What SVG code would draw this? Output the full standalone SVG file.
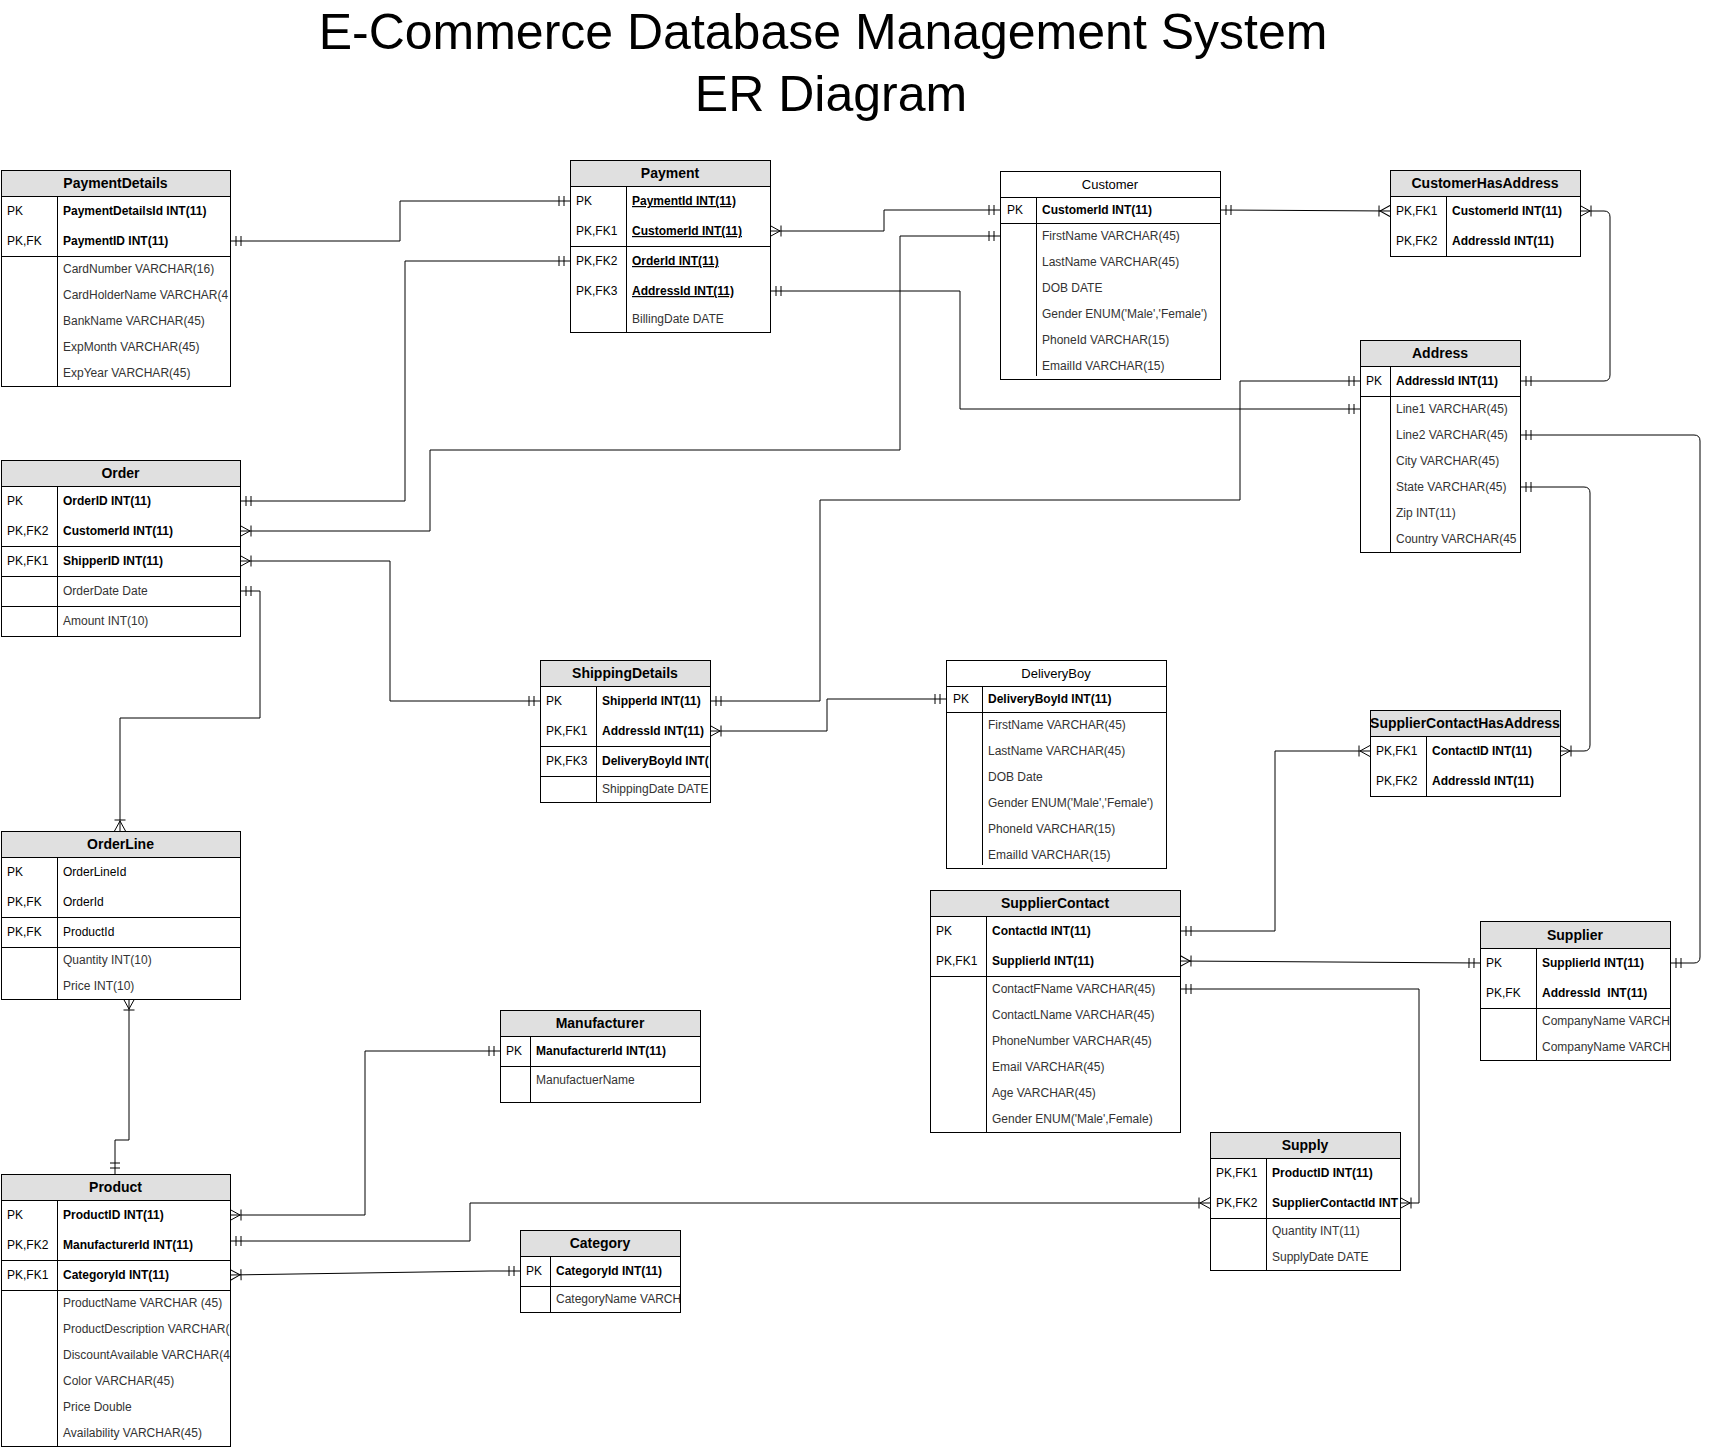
<svg xmlns="http://www.w3.org/2000/svg" width="1716" height="1450" viewBox="0 0 1716 1450">
<style>
text{font-family:"Liberation Sans",Arial,Helvetica,sans-serif}
.box{fill:#fff;stroke:#000;stroke-width:1;shape-rendering:crispEdges}
.hdr{fill:#e0e0e0;stroke:#000;stroke-width:1;shape-rendering:crispEdges}
.sep{stroke:#000;stroke-width:1;fill:none;shape-rendering:crispEdges}
.ht{font-size:14px;font-weight:bold;text-anchor:middle;fill:#000}
.ht2{font-size:13px;text-anchor:middle;fill:#000}
.k{font-size:12px;fill:#000}
.kb{font-size:12px;font-weight:bold;fill:#000}
.u{text-decoration:underline}
.a{font-size:12px;fill:#333}
.c{stroke:#000;stroke-width:1;fill:none}
.title{font-size:50px;text-anchor:middle;fill:#000}
</style>
<defs>
<marker id="one" markerUnits="userSpaceOnUse" orient="auto-start-reverse" refX="0" refY="0" markerWidth="30" markerHeight="30" viewBox="-15 -15 30 30" overflow="visible">
<path d="M-6,-5V5M-11,-5V5" stroke="#000" stroke-width="1" fill="none"/>
</marker>
<marker id="many" markerUnits="userSpaceOnUse" orient="auto-start-reverse" refX="0" refY="0" markerWidth="30" markerHeight="30" viewBox="-15 -15 30 30" overflow="visible">
<path d="M0,-5.5L-10,0L0,5.5M-11,-5.5V5.5" stroke="#000" stroke-width="1" fill="none"/>
</marker>
<clipPath id="cpPD"><rect x="1" y="170" width="229" height="216"/></clipPath>
<clipPath id="cpAD"><rect x="1360" y="340" width="160" height="212"/></clipPath>
<clipPath id="cpSD"><rect x="540" y="660" width="170" height="142"/></clipPath>
<clipPath id="cpSU"><rect x="1480" y="921" width="190" height="139"/></clipPath>
<clipPath id="cpPR"><rect x="1" y="1174" width="229" height="272"/></clipPath>
<clipPath id="cpCA"><rect x="520" y="1230" width="160" height="82"/></clipPath>
<clipPath id="cpSY"><rect x="1210" y="1132" width="190" height="138"/></clipPath>
</defs>
<rect width="1716" height="1450" fill="#fff"/>

<g id="title">
<text class="title" x="823" y="49">E-Commerce Database Management System</text>
<text class="title" x="831" y="111">ER Diagram</text>
</g>

<g id="connectors">
<path class="c" d="M230,241H400V201H570" marker-start="url(#one)" marker-end="url(#one)"/>
<path class="c" d="M240,501H405V261H570" marker-start="url(#one)" marker-end="url(#one)"/>
<path class="c" d="M240,531H430V450H900V236H1000" marker-start="url(#many)" marker-end="url(#one)"/>
<path class="c" d="M770,231H884V210H1000" marker-start="url(#many)" marker-end="url(#one)"/>
<path class="c" d="M770,291H960V409H1360" marker-start="url(#one)" marker-end="url(#one)"/>
<path class="c" d="M1220,210L1390,211" marker-start="url(#one)" marker-end="url(#many)"/>
<path class="c" d="M710,701H820V500H1240V381H1360" marker-start="url(#one)" marker-end="url(#one)"/>
<path class="c" d="M240,561H390V701H540" marker-start="url(#many)" marker-end="url(#one)"/>
<path class="c" d="M710,731H827V699H946" marker-start="url(#many)" marker-end="url(#one)"/>
<path class="c" d="M240,591H260V718H120V831" marker-start="url(#one)" marker-end="url(#many)"/>
<path class="c" d="M129,999V1140H115V1174" marker-start="url(#many)" marker-end="url(#one)"/>
<path class="c" d="M1520,381H1604Q1610,381 1610,375V217Q1610,211 1604,211H1580" marker-start="url(#one)" marker-end="url(#many)"/>
<path class="c" d="M1520,435H1694Q1700,435 1700,441V957Q1700,963 1694,963H1670" marker-start="url(#one)" marker-end="url(#one)"/>
<path class="c" d="M1520,487H1584Q1590,487 1590,493V745Q1590,751 1584,751H1560" marker-start="url(#one)" marker-end="url(#many)"/>
<path class="c" d="M1180,931H1275V751H1370" marker-start="url(#one)" marker-end="url(#many)"/>
<path class="c" d="M1180,961L1480,963" marker-start="url(#many)" marker-end="url(#one)"/>
<path class="c" d="M1180,989H1419V1203H1400" marker-start="url(#one)" marker-end="url(#many)"/>
<path class="c" d="M230,1241H470V1203H1210" marker-start="url(#one)" marker-end="url(#many)"/>
<path class="c" d="M230,1215H365V1051H500" marker-start="url(#many)" marker-end="url(#one)"/>
<path class="c" d="M230,1275L490,1271H520" marker-start="url(#many)" marker-end="url(#one)"/>
</g>

<g id="PaymentDetails">
<rect class="box" x="1" y="170" width="229" height="216"/>
<rect class="hdr" x="1" y="170" width="229" height="26"/>
<path class="sep" d="M57,196V386M1,256H230"/>
<text class="ht" x="115.5" y="188">PaymentDetails</text>
<g clip-path="url(#cpPD)">
<text class="k" x="7" y="215">PK</text><text class="kb" x="63" y="215">PaymentDetailsId INT(11)</text>
<text class="k" x="7" y="245">PK,FK</text><text class="kb" x="63" y="245">PaymentID INT(11)</text>
<text class="a" x="63" y="273">CardNumber VARCHAR(16)</text>
<text class="a" x="63" y="299">CardHolderName VARCHAR(4</text>
<text class="a" x="63" y="325">BankName VARCHAR(45)</text>
<text class="a" x="63" y="351">ExpMonth VARCHAR(45)</text>
<text class="a" x="63" y="377">ExpYear VARCHAR(45)</text>
</g>
</g>

<g id="Payment">
<rect class="box" x="570" y="160" width="200" height="172"/>
<rect class="hdr" x="570" y="160" width="200" height="26"/>
<path class="sep" d="M626,186V332M570,246H770"/>
<text class="ht" x="670" y="178">Payment</text>
<text class="k" x="576" y="205">PK</text><text class="kb u" x="632" y="205">PaymentId INT(11)</text>
<text class="k" x="576" y="235">PK,FK1</text><text class="kb u" x="632" y="235">CustomerId INT(11)</text>
<text class="k" x="576" y="265">PK,FK2</text><text class="kb u" x="632" y="265">OrderId INT(11)</text>
<text class="k" x="576" y="295">PK,FK3</text><text class="kb u" x="632" y="295">AddressId INT(11)</text>
<text class="a" x="632" y="323">BillingDate DATE</text>
</g>

<g id="Customer">
<rect class="box" x="1000" y="171" width="220" height="208"/>
<path class="sep" d="M1000,197H1220M1036,197V376M1000,223H1220"/>
<text class="ht2" x="1110" y="188.5">Customer</text>
<text class="k" x="1007" y="214">PK</text><text class="kb" x="1042" y="214">CustomerId INT(11)</text>
<text class="a" x="1042" y="240">FirstName VARCHAR(45)</text>
<text class="a" x="1042" y="266">LastName VARCHAR(45)</text>
<text class="a" x="1042" y="292">DOB DATE</text>
<text class="a" x="1042" y="318">Gender ENUM('Male','Female')</text>
<text class="a" x="1042" y="344">PhoneId VARCHAR(15)</text>
<text class="a" x="1042" y="370">EmailId VARCHAR(15)</text>
</g>

<g id="CustomerHasAddress">
<rect class="box" x="1390" y="170" width="190" height="86"/>
<rect class="hdr" x="1390" y="170" width="190" height="26"/>
<path class="sep" d="M1446,196V256"/>
<text class="ht" x="1485" y="188">CustomerHasAddress</text>
<text class="k" x="1396" y="215">PK,FK1</text><text class="kb" x="1452" y="215">CustomerId INT(11)</text>
<text class="k" x="1396" y="245">PK,FK2</text><text class="kb" x="1452" y="245">AddressId INT(11)</text>
</g>

<g id="Address">
<rect class="box" x="1360" y="340" width="160" height="212"/>
<rect class="hdr" x="1360" y="340" width="160" height="26"/>
<path class="sep" d="M1390,366V552M1360,396H1520"/>
<text class="ht" x="1440" y="358">Address</text>
<g clip-path="url(#cpAD)">
<text class="k" x="1366" y="385">PK</text><text class="kb" x="1396" y="385">AddressId INT(11)</text>
<text class="a" x="1396" y="413">Line1 VARCHAR(45)</text>
<text class="a" x="1396" y="439">Line2 VARCHAR(45)</text>
<text class="a" x="1396" y="465">City VARCHAR(45)</text>
<text class="a" x="1396" y="491">State VARCHAR(45)</text>
<text class="a" x="1396" y="517">Zip INT(11)</text>
<text class="a" x="1396" y="543">Country VARCHAR(45</text>
</g>
</g>

<g id="Order">
<rect class="box" x="1" y="460" width="239" height="176"/>
<rect class="hdr" x="1" y="460" width="239" height="26"/>
<path class="sep" d="M57,486V636M1,546H240M1,576H240M1,606H240"/>
<text class="ht" x="120.5" y="478">Order</text>
<text class="k" x="7" y="505">PK</text><text class="kb" x="63" y="505">OrderID INT(11)</text>
<text class="k" x="7" y="535">PK,FK2</text><text class="kb" x="63" y="535">CustomerId INT(11)</text>
<text class="k" x="7" y="565">PK,FK1</text><text class="kb" x="63" y="565">ShipperID INT(11)</text>
<text class="a" x="63" y="595">OrderDate Date</text>
<text class="a" x="63" y="625">Amount INT(10)</text>
</g>

<g id="ShippingDetails">
<rect class="box" x="540" y="660" width="170" height="142"/>
<rect class="hdr" x="540" y="660" width="170" height="26"/>
<path class="sep" d="M596,686V802M540,746H710M540,776H710"/>
<text class="ht" x="625" y="678">ShippingDetails</text>
<g clip-path="url(#cpSD)">
<text class="k" x="546" y="705">PK</text><text class="kb" x="602" y="705">ShipperId INT(11)</text>
<text class="k" x="546" y="735">PK,FK1</text><text class="kb" x="602" y="735">AddressId INT(11)</text>
<text class="k" x="546" y="765">PK,FK3</text><text class="kb" x="602" y="765">DeliveryBoyId INT(</text>
<text class="a" x="602" y="793">ShippingDate DATE</text>
</g>
</g>

<g id="DeliveryBoy">
<rect class="box" x="946" y="660" width="220" height="208"/>
<path class="sep" d="M946,686H1166M982,686V865M946,712H1166"/>
<text class="ht2" x="1056" y="677.5">DeliveryBoy</text>
<text class="k" x="953" y="703">PK</text><text class="kb" x="988" y="703">DeliveryBoyId INT(11)</text>
<text class="a" x="988" y="729">FirstName VARCHAR(45)</text>
<text class="a" x="988" y="755">LastName VARCHAR(45)</text>
<text class="a" x="988" y="781">DOB Date</text>
<text class="a" x="988" y="807">Gender ENUM('Male','Female')</text>
<text class="a" x="988" y="833">PhoneId VARCHAR(15)</text>
<text class="a" x="988" y="859">EmailId VARCHAR(15)</text>
</g>

<g id="SupplierContactHasAddress">
<rect class="box" x="1370" y="710" width="190" height="86"/>
<rect class="hdr" x="1370" y="710" width="190" height="26"/>
<path class="sep" d="M1426,736V796"/>
<text class="ht" x="1465" y="728">SupplierContactHasAddress</text>
<text class="k" x="1376" y="755">PK,FK1</text><text class="kb" x="1432" y="755">ContactID INT(11)</text>
<text class="k" x="1376" y="785">PK,FK2</text><text class="kb" x="1432" y="785">AddressId INT(11)</text>
</g>

<g id="OrderLine">
<rect class="box" x="1" y="831" width="239" height="168"/>
<rect class="hdr" x="1" y="831" width="239" height="26"/>
<path class="sep" d="M57,857V999M1,917H240M1,947H240"/>
<text class="ht" x="120.5" y="849">OrderLine</text>
<text class="k" x="7" y="876">PK</text><text class="k" x="63" y="876">OrderLineId</text>
<text class="k" x="7" y="906">PK,FK</text><text class="k" x="63" y="906">OrderId</text>
<text class="k" x="7" y="936">PK,FK</text><text class="k" x="63" y="936">ProductId</text>
<text class="a" x="63" y="964">Quantity INT(10)</text>
<text class="a" x="63" y="990">Price INT(10)</text>
</g>

<g id="SupplierContact">
<rect class="box" x="930" y="890" width="250" height="242"/>
<rect class="hdr" x="930" y="890" width="250" height="26"/>
<path class="sep" d="M986,916V1132M930,976H1180"/>
<text class="ht" x="1055" y="908">SupplierContact</text>
<text class="k" x="936" y="935">PK</text><text class="kb" x="992" y="935">ContactId INT(11)</text>
<text class="k" x="936" y="965">PK,FK1</text><text class="kb" x="992" y="965">SupplierId INT(11)</text>
<text class="a" x="992" y="993">ContactFName VARCHAR(45)</text>
<text class="a" x="992" y="1019">ContactLName VARCHAR(45)</text>
<text class="a" x="992" y="1045">PhoneNumber VARCHAR(45)</text>
<text class="a" x="992" y="1071">Email VARCHAR(45)</text>
<text class="a" x="992" y="1097">Age VARCHAR(45)</text>
<text class="a" x="992" y="1123">Gender ENUM('Male',Female)</text>
</g>

<g id="Supplier">
<rect class="box" x="1480" y="921" width="190" height="139"/>
<rect class="hdr" x="1480" y="921" width="190" height="27"/>
<path class="sep" d="M1536,948V1060M1480,1008H1670"/>
<text class="ht" x="1575" y="939.5">Supplier</text>
<g clip-path="url(#cpSU)">
<text class="k" x="1486" y="967">PK</text><text class="kb" x="1542" y="967">SupplierId INT(11)</text>
<text class="k" x="1486" y="997">PK,FK</text><text class="kb" x="1542" y="997" xml:space="preserve">AddressId  INT(11)</text>
<text class="a" x="1542" y="1025">CompanyName VARCH</text>
<text class="a" x="1542" y="1051">CompanyName VARCH</text>
</g>
</g>

<g id="Manufacturer">
<rect class="box" x="500" y="1010" width="200" height="92"/>
<rect class="hdr" x="500" y="1010" width="200" height="26"/>
<path class="sep" d="M530,1036V1102M500,1066H700"/>
<text class="ht" x="600" y="1028">Manufacturer</text>
<text class="k" x="506" y="1055">PK</text><text class="kb" x="536" y="1055">ManufacturerId INT(11)</text>
<text class="a" x="536" y="1084">ManufactuerName</text>
</g>

<g id="Product">
<rect class="box" x="1" y="1174" width="229" height="272"/>
<rect class="hdr" x="1" y="1174" width="229" height="26"/>
<path class="sep" d="M57,1200V1446M1,1260H230M1,1290H230"/>
<text class="ht" x="115.5" y="1192">Product</text>
<g clip-path="url(#cpPR)">
<text class="k" x="7" y="1219">PK</text><text class="kb" x="63" y="1219">ProductID INT(11)</text>
<text class="k" x="7" y="1249">PK,FK2</text><text class="kb" x="63" y="1249">ManufacturerId INT(11)</text>
<text class="k" x="7" y="1279">PK,FK1</text><text class="kb" x="63" y="1279">CategoryId INT(11)</text>
<text class="a" x="63" y="1307">ProductName VARCHAR (45)</text>
<text class="a" x="63" y="1333">ProductDescription VARCHAR(</text>
<text class="a" x="63" y="1359">DiscountAvailable VARCHAR(4</text>
<text class="a" x="63" y="1385">Color VARCHAR(45)</text>
<text class="a" x="63" y="1411">Price Double</text>
<text class="a" x="63" y="1437">Availability VARCHAR(45)</text>
</g>
</g>

<g id="Category">
<rect class="box" x="520" y="1230" width="160" height="82"/>
<rect class="hdr" x="520" y="1230" width="160" height="26"/>
<path class="sep" d="M550,1256V1312M520,1286H680"/>
<text class="ht" x="600" y="1248">Category</text>
<g clip-path="url(#cpCA)">
<text class="k" x="526" y="1275">PK</text><text class="kb" x="556" y="1275">CategoryId INT(11)</text>
<text class="a" x="556" y="1303">CategoryName VARCH</text>
</g>
</g>

<g id="Supply">
<rect class="box" x="1210" y="1132" width="190" height="138"/>
<rect class="hdr" x="1210" y="1132" width="190" height="26"/>
<path class="sep" d="M1266,1158V1270M1210,1218H1400"/>
<text class="ht" x="1305" y="1150">Supply</text>
<g clip-path="url(#cpSY)">
<text class="k" x="1216" y="1177">PK,FK1</text><text class="kb" x="1272" y="1177">ProductID INT(11)</text>
<text class="k" x="1216" y="1207">PK,FK2</text><text class="kb" x="1272" y="1207">SupplierContactId INT</text>
<text class="a" x="1272" y="1235">Quantity INT(11)</text>
<text class="a" x="1272" y="1261">SupplyDate DATE</text>
</g>
</g>
</svg>
